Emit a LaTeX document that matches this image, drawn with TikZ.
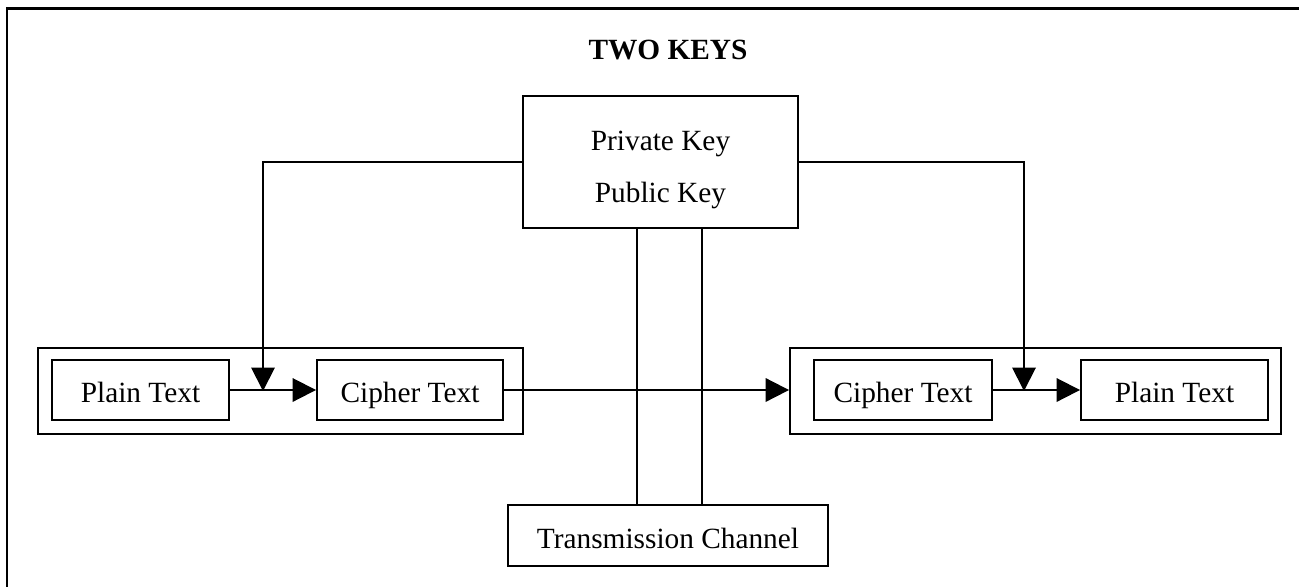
\documentclass[tikz,border=0pt]{standalone}
\usepackage{fontspec}
\setmainfont{Liberation Serif}
\usetikzlibrary{arrows.meta}

\tikzset{
  txt/.style={font=\fontsize{16.7}{30}\selectfont},
  box/.style={draw, rectangle, inner sep=0pt, line width=1.1pt, txt},
  lbl/.style={text height=18pt, text depth=3.6pt},
  arr/.style={line width=1.1pt, -{Triangle[length=0.47cm,width=0.47cm]}},
}

\begin{document}
\begin{tikzpicture}[x=0.02cm,y=-0.02cm]
      \useasboundingbox (0,0) rectangle (1299,586);

      % frame
      \draw[line width=1.7pt] (7,620) -- (7,8) -- (1320,8);

      \node[txt, font=\fontsize{16.7}{20}\selectfont\bfseries] (title) at (668,50) {TWO KEYS};

      \begin{scope}[every node/.style={box}]
        \node[minimum width=5.5cm, minimum height=2.64cm, align=center] (key) at (660.5,162) {\rule{0pt}{20pt}Private Key\\Public Key};
        \node[lbl, minimum width=6.4cm, minimum height=1.22cm] (trans) at (668,535.5) {Transmission Channel};

        \node[minimum width=9.7cm, minimum height=1.72cm] (sendL) at (280.5,391) {};
        \node[lbl, minimum width=3.54cm, minimum height=1.2cm] (plainL) at (140.5,390) {Plain Text};
        \node[lbl, minimum width=3.72cm, minimum height=1.2cm] (cipherL) at (410,390) {Cipher Text};

        \node[minimum width=9.82cm, minimum height=1.72cm] (recvR) at (1035.5,391) {};
        \node[lbl, minimum width=3.56cm, minimum height=1.2cm] (cipherR) at (903,390) {Cipher Text};
        \node[lbl, minimum width=3.74cm, minimum height=1.2cm] (plainR) at (1174.5,390) {Plain Text};
      \end{scope}

      \coordinate (jL) at (263,391);
      \coordinate (jR) at (1024,391);
      \coordinate (c1) at (637,0);
      \coordinate (c2) at (702,0);

      \begin{scope}[line width=1.1pt]
        \draw[arr] (key.west) -| (jL);
        \draw[arr] (key.east) -| (jR);
        \draw[arr] (plainL) -- (cipherL);
        \draw[arr] (cipherR) -- (plainR);
        \draw[arr] (cipherL.east) -- (cipherL.east -| recvR.west);
        \draw (key.south -| c1) -- (trans.north -| c1);
        \draw (key.south -| c2) -- (trans.north -| c2);
      \end{scope}

    \end{tikzpicture}
\end{document}
